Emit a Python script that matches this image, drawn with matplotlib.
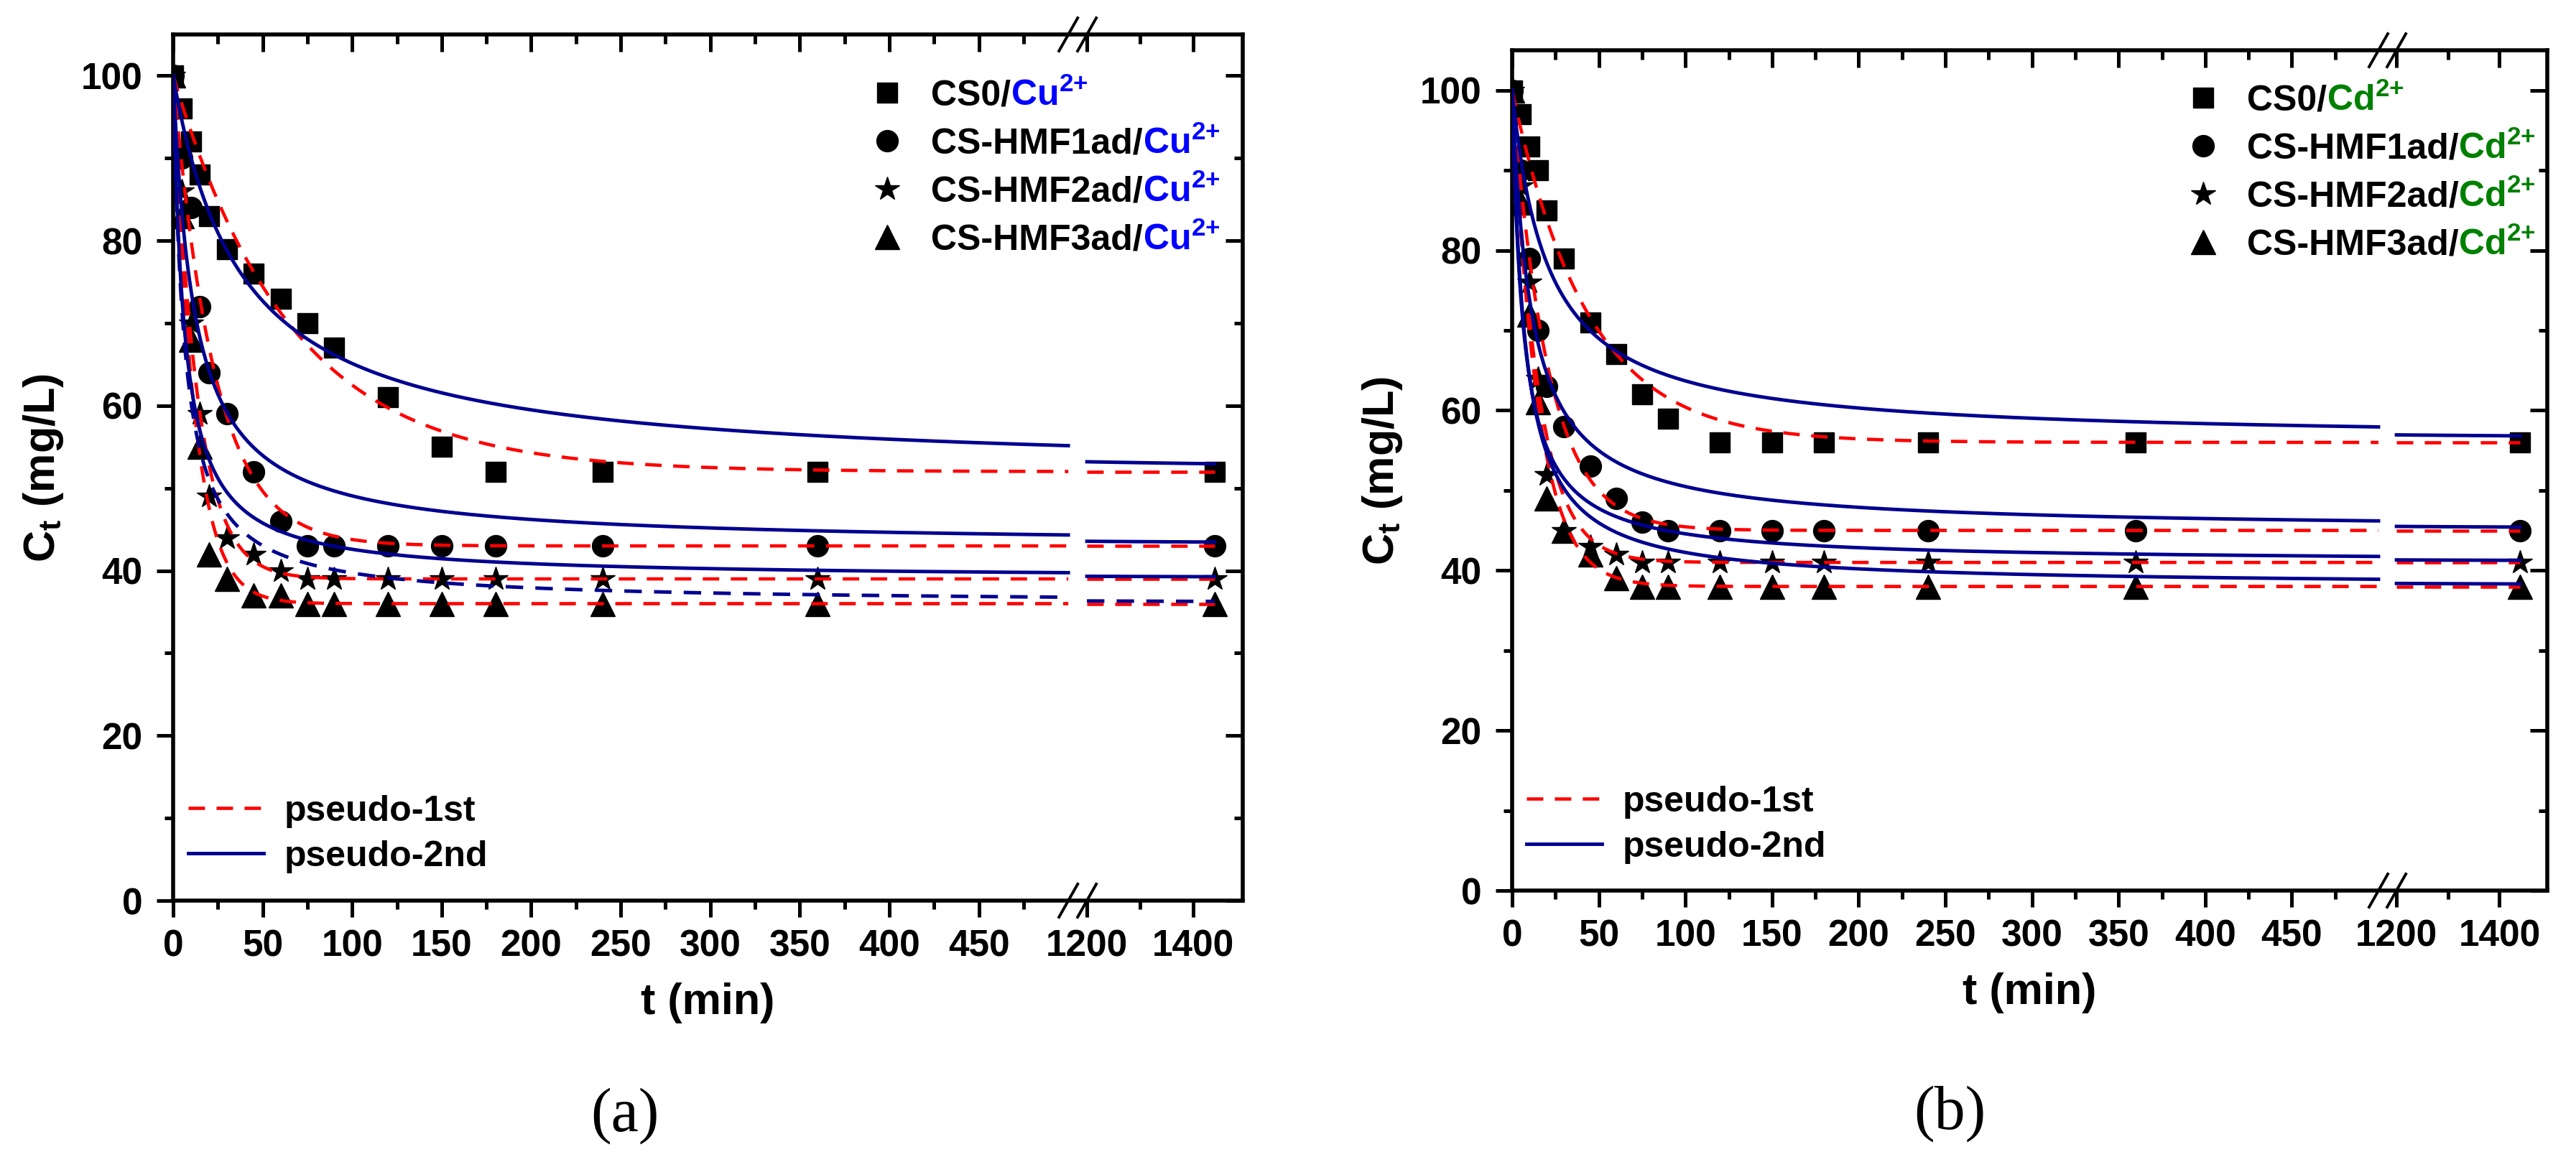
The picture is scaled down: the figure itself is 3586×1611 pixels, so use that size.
import matplotlib
matplotlib.use("Agg")
import matplotlib.pyplot as plt
import numpy as np
from matplotlib.lines import Line2D
from matplotlib.ticker import FixedLocator, FixedFormatter

plt.rcParams['font.family'] = ['Liberation Sans', 'DejaVu Sans']
plt.rcParams['font.weight'] = 'bold'
plt.rcParams['axes.labelweight'] = 'bold'
plt.rcParams['mathtext.fontset'] = 'custom'
plt.rcParams['mathtext.rm'] = 'Liberation Sans:bold'
plt.rcParams['mathtext.bf'] = 'Liberation Sans:bold'
plt.rcParams['mathtext.it'] = 'Liberation Sans:bold:italic'

# sampling times (min) and measured concentrations (mg/L)
t_min = [0, 5, 10, 15, 20, 30, 45, 60, 75, 90, 120, 150, 180, 240, 360, 1440]
c0 = 100

cu_cs0 = [100, 96, 92, 88, 83, 79, 76, 73, 70, 67, 61, 55, 52, 52, 52, 52]
cu_hmf1 = [100, 90, 84, 72, 64, 59, 52, 46, 43, 43, 43, 43, 43, 43, 43, 43]
cu_hmf2 = [100, 86, 70, 59, 49, 44, 42, 40, 39, 39, 39, 39, 39, 39, 39, 39]
cu_hmf3 = [100, 83, 68, 55, 42, 39, 37, 37, 36, 36, 36, 36, 36, 36, 36, 36]

cd_cs0 = [100, 97, 93, 90, 85, 79, 71, 67, 62, 59, 56, 56, 56, 56, 56, 56]
cd_hmf1 = [100, 90, 79, 70, 63, 58, 53, 49, 46, 45, 45, 45, 45, 45, 45, 45]
cd_hmf2 = [100, 88, 76, 64, 52, 45, 43, 42, 41, 41, 41, 41, 41, 41, 41, 41]
cd_hmf3 = [100, 86, 72, 61, 49, 45, 42, 39, 38, 38, 38, 38, 38, 38, 38, 38]

sorbents = ['CS0', 'CS-HMF1ad', 'CS-HMF2ad', 'CS-HMF3ad']

# fitted kinetic parameters (estimated from the drawn curves)
# pseudo-1st:  Ct = Ce + (C0 - Ce) * exp(-k1 t)
cu_p1_ce = [52, 43, 39, 36]
cu_p1_k = [0.0152, 0.043, 0.074, 0.085]
cd_p1_ce = [56, 45, 41, 38]
cd_p1_k = [0.023, 0.048, 0.066, 0.067]
# pseudo-2nd:  Ct = C0 - D * h t / (1 + h t)
cu_p2_d = [48.3, 57, 61, 64]
cu_p2_h = [0.026, 0.084, 0.16, 0.162]
cu_p2_ls = ['-', '-', '-', '--']
cd_p2_d = [43.8, 55, 59, 62]
cd_p2_h = [0.0485, 0.0903, 0.155, 0.136]
cd_p2_ls = ['-', '-', '-', '-']

x_major = [0, 50, 100, 150, 200, 250, 300, 350, 400, 450, 1200, 1400]
x_minor = [25, 75, 125, 175, 225, 275, 325, 375, 425, 475, 1300]
y_major = [0, 20, 40, 60, 80, 100]
y_minor = [10, 30, 50, 70, 90]

markers = ['s', 'o', '*', '^']
msizes = [19.5, 21.5, 25, 24]
red = '#ff0000'
navy = '#000090'
dash = (0, (5, 3.5))

# broken x axis: 0-500 | 1200-1493
GAP = 10.4
R = 0.297


def fwd(t):
    t = np.asarray(t, dtype=float)
    return np.where(t <= 500, t,
                    np.where(t < 1200, 500 + (t - 500) * GAP / 700,
                             500 + GAP + (t - 1200) * R))


def inv(u):
    u = np.asarray(u, dtype=float)
    return np.where(u <= 500, u,
                    np.where(u < 500 + GAP, 500 + (u - 500) * 700 / GAP,
                             1200 + (u - 500 - GAP) / R))


def panel(fig, rect, series, p1_ce, p1_k, p2_d, p2_h, p2_ls, ion, ion_color,
          leg1_anchor, leg2_anchor):
    ax = fig.add_axes(rect)
    ax.set_xscale('function', functions=(fwd, inv))

    for vals, mk, ms in zip(series, markers, msizes):
        ax.plot(t_min, vals, ls='none', marker=mk, ms=ms, color='k', zorder=3)

    for seg in (np.linspace(0, 500, 600), np.linspace(1200, 1440, 60)):
        for ce, k in zip(p1_ce, p1_k):
            ax.plot(seg, ce + (c0 - ce) * np.exp(-k * seg), color=red,
                    ls=dash, lw=3.3, zorder=4)
        for d, h, ls in zip(p2_d, p2_h, p2_ls):
            ax.plot(seg, c0 - d * h * seg / (1 + h * seg), color=navy,
                    ls=dash if ls == '--' else '-', lw=3.5, zorder=4)

    ax.set_xlim(0, 1493)
    ax.set_ylim(0, 105)
    ax.xaxis.set_major_locator(FixedLocator(x_major))
    ax.xaxis.set_major_formatter(FixedFormatter([str(v) for v in x_major]))
    ax.xaxis.set_minor_locator(FixedLocator(x_minor))
    ax.yaxis.set_major_locator(FixedLocator(y_major))
    ax.yaxis.set_minor_locator(FixedLocator(y_minor))

    for sp in ax.spines.values():
        sp.set_linewidth(4)
    ax.tick_params(which='both', direction='out', width=3.6, labelsize=37,
                   top=False, right=False)
    ax.tick_params(which='major', length=16.5, pad=12)
    ax.tick_params(which='minor', length=8.5)
    ax.tick_params(axis='y', which='major', pad=14)

    ax.set_xlabel('t (min)', fontsize=44, labelpad=18)
    ax.set_ylabel(r'$\mathbf{C_t}$ (mg/L)', fontsize=44, labelpad=16)

    # mirrored ticks pointing inward on top and right
    axt = fig.add_axes(rect, sharex=ax, sharey=ax)
    axt.patch.set_visible(False)
    for sp in axt.spines.values():
        sp.set_visible(False)
    axt.tick_params(which='both', direction='in', width=3.6, bottom=False,
                    left=False, top=True, right=True, labelbottom=False,
                    labelleft=False, labeltop=False, labelright=False)
    axt.tick_params(which='major', length=17)
    axt.tick_params(which='minor', length=9)

    # break marks on the top and bottom spines
    xr = float(fwd(1493))
    bbox = ax.get_window_extent()
    dx = 13 / bbox.width
    dy = 23 / bbox.height
    for tb in (500, 1200):
        xa = float(fwd(tb)) / xr
        for ya in (0, 1):
            ax.plot([xa - dx, xa + dx], [ya - dy, ya + dy], color='k', lw=2.8,
                    transform=ax.transAxes, clip_on=False, zorder=6)

    # sorbent legend, ion part appended in colour
    handles = [Line2D([], [], ls='none', marker=m, ms=s, color='k')
               for m, s in zip(markers, msizes)]
    leg1 = ax.legend(handles, [s + '/' for s in sorbents], loc='upper left',
                     bbox_to_anchor=leg1_anchor, frameon=False, fontsize=36,
                     handlelength=1.0, handletextpad=0.72, labelspacing=0.42,
                     borderpad=0, borderaxespad=0)
    ax.add_artist(leg1)
    for txt in leg1.get_texts():
        ax.annotate(ion + r'$^{\mathbf{2{+}}}$', xy=(1, 0), xycoords=txt,
                    ha='left', va='bottom', color=ion_color, fontsize=36,
                    fontweight='bold', zorder=10)

    lines = [Line2D([], [], color=red, ls=dash, lw=3.3),
             Line2D([], [], color=navy, lw=3.5)]
    ax.legend(lines, ['pseudo-1st', 'pseudo-2nd'], loc='upper left',
              bbox_to_anchor=leg2_anchor, frameon=False, fontsize=36,
              handlelength=2.1, handletextpad=0.58, labelspacing=0.34,
              borderpad=0, borderaxespad=0)
    return ax


W, H = 3587, 1611
fig = plt.figure(figsize=(W / 100, H / 100), dpi=100)

panel(fig, [241 / W, (H - 1254) / H, 1489 / W, 1206 / H],
      [cu_cs0, cu_hmf1, cu_hmf2, cu_hmf3], cu_p1_ce, cu_p1_k,
      cu_p2_d, cu_p2_h, cu_p2_ls, 'Cu', '#0000ff',
      (0.651, 0.948), (0.0141, 0.122))
panel(fig, [2105 / W, (H - 1240) / H, 1441 / W, 1170 / H],
      [cd_cs0, cd_hmf1, cd_hmf2, cd_hmf3], cd_p1_ce, cd_p1_k,
      cd_p2_d, cd_p2_h, cd_p2_ls, 'Cd', '#008000',
      (0.650, 0.959), (0.0139, 0.125))

fig.text(870 / W, 1 - 1554 / H, '(a)', ha='center', va='center', fontsize=62,
         family='Liberation Serif', fontweight='normal')
fig.text(2714 / W, 1 - 1551 / H, '(b)', ha='center', va='center', fontsize=62,
         family='Liberation Serif', fontweight='normal')

fig.savefig('out.png', dpi=100)
